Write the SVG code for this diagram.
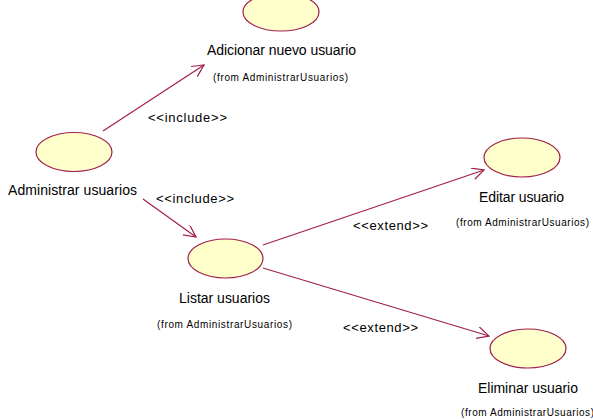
<svg xmlns="http://www.w3.org/2000/svg" width="593" height="419" viewBox="0 0 593 419">
<style>
.uc{fill:#ffffcc;stroke:#a0204a;stroke-width:1.2}
.ln{stroke:#a0204a;stroke-width:1.2;fill:none}
.lbl{font-family:"Liberation Sans",Arial,sans-serif;font-size:14px;fill:#000}
.frm{font-family:"Liberation Sans",Arial,sans-serif;font-size:10px;fill:#000}
.st{font-family:"Liberation Sans",Arial,sans-serif;font-size:13px;fill:#000}
</style>
<defs>
<marker id="arr" markerUnits="userSpaceOnUse" markerWidth="14" markerHeight="14" refX="12" refY="6" orient="auto">
<path d="M0,0 L12,6 L0,12" fill="none" stroke="#a0204a" stroke-width="1.2"/>
</marker>
</defs>
<rect width="593" height="419" fill="#fff"/>
<g id="connectors">
<line class="ln" x1="103" y1="131" x2="204" y2="65" marker-end="url(#arr)"/>
<line class="ln" x1="143" y1="199" x2="196" y2="237" marker-end="url(#arr)"/>
<line class="ln" x1="263" y1="245" x2="484" y2="170" marker-end="url(#arr)"/>
<line class="ln" x1="263" y1="268" x2="489" y2="336" marker-end="url(#arr)"/>
<text class="st" x="148" y="122" textLength="79" lengthAdjust="spacing">&lt;&lt;include&gt;&gt;</text>
<text class="st" x="156" y="203" textLength="78" lengthAdjust="spacing">&lt;&lt;include&gt;&gt;</text>
<text class="st" x="353" y="230" textLength="75" lengthAdjust="spacing">&lt;&lt;extend&gt;&gt;</text>
<text class="st" x="343" y="332" textLength="75" lengthAdjust="spacing">&lt;&lt;extend&gt;&gt;</text>
</g>
<g id="adicionar">
<ellipse class="uc" cx="281" cy="12" rx="38" ry="19"/>
<text class="lbl" x="207" y="55" textLength="149" lengthAdjust="spacing">Adicionar nuevo usuario</text>
<text class="frm" x="213" y="81" textLength="135" lengthAdjust="spacing">(from AdministrarUsuarios)</text>
</g>
<g id="administrar">
<ellipse class="uc" cx="74" cy="152" rx="38" ry="19.5"/>
<text class="lbl" x="8" y="195" textLength="129" lengthAdjust="spacing">Administrar usuarios</text>
</g>
<g id="listar">
<ellipse class="uc" cx="225.5" cy="258.5" rx="37.5" ry="19.5"/>
<text class="lbl" x="179" y="303" textLength="91" lengthAdjust="spacing">Listar usuarios</text>
<text class="frm" x="157" y="328" textLength="135" lengthAdjust="spacing">(from AdministrarUsuarios)</text>
</g>
<g id="editar">
<ellipse class="uc" cx="522" cy="157.5" rx="38" ry="19.5"/>
<text class="lbl" x="479" y="202" textLength="85" lengthAdjust="spacing">Editar usuario</text>
<text class="frm" x="456" y="226" textLength="133" lengthAdjust="spacing">(from AdministrarUsuarios)</text>
</g>
<g id="eliminar">
<ellipse class="uc" cx="528" cy="348.5" rx="38" ry="19.5"/>
<text class="lbl" x="478" y="393" textLength="100" lengthAdjust="spacing">Eliminar usuario</text>
<text class="frm" x="461" y="416" textLength="133" lengthAdjust="spacing">(from AdministrarUsuarios)</text>
</g>
</svg>
